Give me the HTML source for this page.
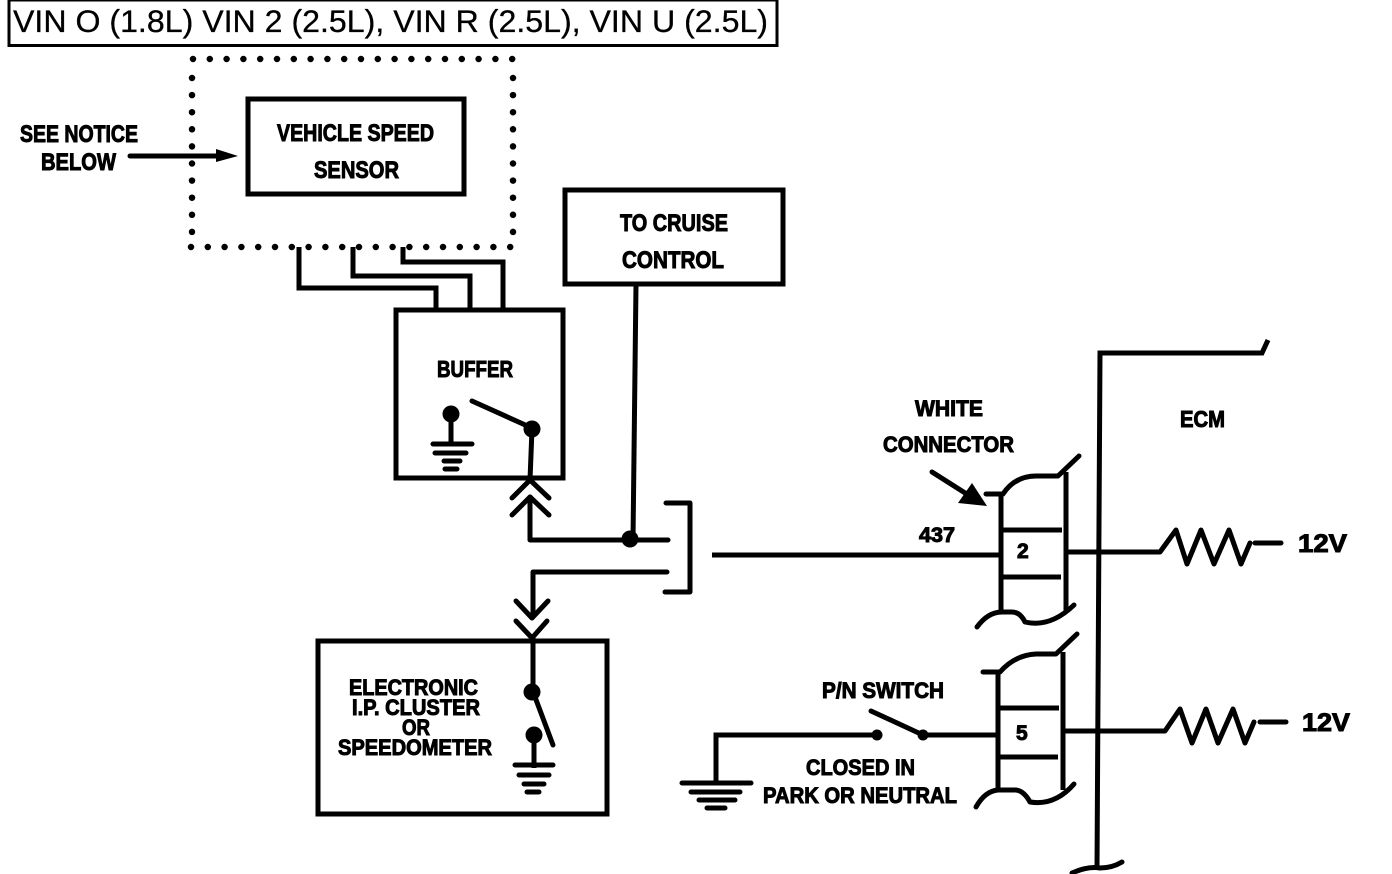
<!DOCTYPE html>
<html><head><meta charset="utf-8"><style>
html,body{margin:0;padding:0;background:#fff;width:1392px;height:874px;overflow:hidden}
svg{display:block}
.l{fill:none;stroke:#000;stroke-width:5;stroke-linejoin:miter;stroke-linecap:butt}
.r{stroke-linecap:round;stroke-linejoin:round}
.t{font-family:"Liberation Sans",sans-serif;font-weight:bold;fill:#000;stroke:#000;stroke-width:1}
.d{fill:none;stroke:#000;stroke-width:6.5;stroke-linecap:round}
</style></head><body>
<svg width="1392" height="874" viewBox="0 0 1392 874" xmlns="http://www.w3.org/2000/svg">
<rect width="1392" height="874" fill="#fff"/>
<rect x="9" y="0" width="768" height="45.5" fill="none" stroke="#000" stroke-width="3"/>
<text x="13" y="32" font-family="'Liberation Sans',sans-serif" font-size="31.5" stroke="#000" stroke-width=".3" textLength="755" lengthAdjust="spacingAndGlyphs">VIN O (1.8L) VIN 2 (2.5L), VIN R (2.5L), VIN U (2.5L)</text>

<path class="d" d="M193 59H514" stroke-dasharray="0 16.8"/>
<path class="d" d="M192 78V247M513 78V247" stroke-dasharray="0 17.1"/>
<path class="d" d="M191 247H514" stroke-dasharray="0 16.8"/>
<rect x="248" y="99" width="216" height="95" class="l"/>
<text class="t" x="277" y="141" font-size="24" textLength="157" lengthAdjust="spacingAndGlyphs">VEHICLE SPEED</text>
<text class="t" x="314" y="178" font-size="24" textLength="85" lengthAdjust="spacingAndGlyphs">SENSOR</text>
<text class="t" x="20" y="142" font-size="24" textLength="118" lengthAdjust="spacingAndGlyphs">SEE NOTICE</text>
<text class="t" x="41" y="170" font-size="24" textLength="75" lengthAdjust="spacingAndGlyphs">BELOW</text>
<path class="l r" d="M130 156H220"/><path d="M216 149L238 156L216 162Z"/>

<path class="l" d="M299 247V288H436V309M353 247V276H470V309M403 247V262H503V309"/>
<rect x="396" y="310" width="167" height="168" class="l"/>
<text class="t" x="437" y="377" font-size="23" textLength="76" lengthAdjust="spacingAndGlyphs">BUFFER</text>
<circle cx="451" cy="414" r="8.5"/>
<path class="l" d="M451 414V444"/>
<path class="l r" d="M433 444H472M435 453H466M444 461H460M445 469H457"/>
<path class="l r" d="M472 401L532 428"/><circle cx="532" cy="429" r="8.5"/>
<path class="l" d="M532 429L530 480"/>
<path class="l r" d="M512 498L530 480L549 498M512 515L530 497L549 515"/>
<path class="l r" d="M530 497V540H668"/>
<circle cx="630" cy="539" r="8.5"/>
<rect x="565" y="190" width="218" height="94" class="l"/>
<text class="t" x="620" y="231" font-size="24" textLength="108" lengthAdjust="spacingAndGlyphs">TO CRUISE</text>
<text class="t" x="622" y="268" font-size="24" textLength="102" lengthAdjust="spacingAndGlyphs">CONTROL</text>
<path class="l" d="M636 284L633 540"/>
<path class="l r" d="M666 503H690V592H665"/>
<path class="l r" d="M667 572H533V615"/>
<path class="l r" d="M516 601L532 618L548 601M516 621L532 638L547 621"/>

<rect x="318" y="641" width="289" height="173" class="l"/>
<path class="l" d="M533 638V692"/>
<text class="t" x="349" y="695" font-size="22" textLength="129" lengthAdjust="spacingAndGlyphs">ELECTRONIC</text>
<text class="t" x="352" y="715" font-size="22" textLength="128" lengthAdjust="spacingAndGlyphs">I.P. CLUSTER</text>
<text class="t" x="402" y="735" font-size="22" textLength="28" lengthAdjust="spacingAndGlyphs">OR</text>
<text class="t" x="338" y="755" font-size="22" textLength="154" lengthAdjust="spacingAndGlyphs">SPEEDOMETER</text>
<circle cx="532" cy="692" r="8.5"/><circle cx="534" cy="735" r="8.5"/>
<path class="l r" d="M535 697L553 745"/>
<path class="l" d="M534 735V768"/>
<path class="l r" d="M515 765H553M519 775H549M524 784H544M527 792H539"/>

<path class="l" d="M712 555H1000"/>
<text class="t" x="919" y="542" font-size="21" textLength="36" lengthAdjust="spacingAndGlyphs">437</text>
<text class="t" x="915" y="416" font-size="22" textLength="68" lengthAdjust="spacingAndGlyphs">WHITE</text>
<text class="t" x="883" y="452" font-size="22" textLength="131" lengthAdjust="spacingAndGlyphs">CONNECTOR</text>
<path class="l r" d="M932 472L973 498"/><path d="M972 483L958 503L987 506Z"/>

<path class="l" d="M1001 495V612M1066 472V612"/>
<path class="l r" d="M986 494H1003Q1015 476 1036 476H1058L1079 456"/>
<path class="l" d="M1003 530H1062M1003 577H1061"/>
<text class="t" x="1017" y="558" font-size="21">2</text>
<path class="l r" d="M977 627Q988 612 1002 612H1012Q1020 612 1025 622Q1050 628 1074 605"/>
<path class="l r" d="M1068 552H1160L1176 530L1187 564L1201 530L1214 564L1229 530L1241 564L1250 543"/>
<path class="l r" d="M1255 543H1281"/>
<text class="t" x="1298" y="552" font-size="25" textLength="49" lengthAdjust="spacingAndGlyphs">12V</text>

<text class="t" x="1180" y="427" font-size="23" textLength="45" lengthAdjust="spacingAndGlyphs">ECM</text>
<path class="l" d="M1268 340L1262 353H1100L1097 868"/>
<path class="l r" d="M1072 873Q1088 866 1100 868Q1112 868 1122 862"/>

<text class="t" x="822" y="698" font-size="22" textLength="122" lengthAdjust="spacingAndGlyphs">P/N SWITCH</text>
<path class="l r" d="M871 711L923 735"/>
<circle cx="923" cy="735" r="5.5"/><circle cx="877" cy="735" r="5.5"/>
<path class="l" d="M923 735H998M877 735H716V783"/>
<path class="l r" d="M682 783H751M691 792H740M699 800H735M707 808H725"/>
<text class="t" x="806" y="775" font-size="22" textLength="109" lengthAdjust="spacingAndGlyphs">CLOSED IN</text>
<text class="t" x="763" y="803" font-size="22" textLength="194" lengthAdjust="spacingAndGlyphs">PARK OR NEUTRAL</text>

<path class="l" d="M998 672V790M1063 652V790"/>
<path class="l r" d="M983 672H1000Q1015 655 1036 654H1056L1077 634"/>
<path class="l" d="M1000 708H1059M1000 757H1058"/>
<text class="t" x="1016" y="740" font-size="21">5</text>
<path class="l r" d="M976 807Q985 791 998 790H1016Q1024 791 1030 802Q1055 806 1074 784"/>
<path class="l r" d="M1066 731H1165L1180 709L1192 743L1206 709L1218 743L1233 709L1245 743L1254 722"/>
<path class="l r" d="M1260 722H1286"/>
<text class="t" x="1302" y="731" font-size="25" textLength="48" lengthAdjust="spacingAndGlyphs">12V</text>
</svg>
</body></html>
